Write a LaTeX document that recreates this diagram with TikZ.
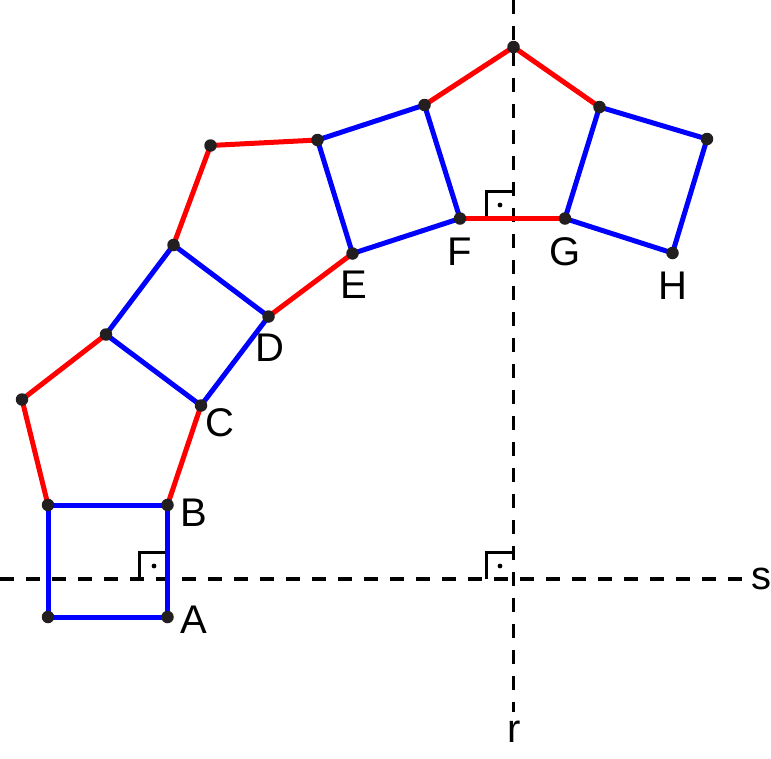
\documentclass[tikz,border=0pt]{standalone}
\usepackage{fontspec}
\setmainfont{Liberation Sans}
\definecolor{dotc}{RGB}{35,31,32}
\definecolor{myred}{RGB}{255,0,0}
\definecolor{myblue}{RGB}{0,0,255}
\begin{document}
\begin{tikzpicture}[x=1pt,y=-1pt,
  redline/.style={myred,line width=5pt},
  blueline/.style={myblue,line width=5pt},
  axisline/.style={black,line width=3.2pt,dash pattern=on 14pt off 12pt},
  rightmark/.style={black,line width=3pt},
  pt/.style={circle,fill=dotc,inner sep=0pt,minimum size=12.5pt},
  lbl/.style={font=\fontsize{40}{48}\selectfont,inner sep=0pt}]
\useasboundingbox (0,0) rectangle (771,758);
% axes
\coordinate (s0) at (0,579);
\coordinate (s1) at (745,579);
\coordinate (r0) at (513.5,0);
\coordinate (r1) at (513.5,712);
\draw[axisline] (s0) -- (s1);
\draw[axisline] (r0) -- (r1);
% right angle marks
\draw[rightmark] (139.5,579) -- (139.5,552) -- (167.5,552);
\fill (154,566) circle (2.4pt);
\draw[rightmark] (486,579) -- (486,552) -- (513.5,552);
\fill (500,566) circle (2.4pt);
\draw[rightmark] (486,219) -- (486,191) -- (513.5,191);
\fill (500,205) circle (2.4pt);
% points
\coordinate (A) at (167.5,617);
\coordinate (B) at (167.5,505);
\coordinate (P1) at (48,505);
\coordinate (P2) at (48,617);
\coordinate (Q1) at (22,399.5);
\coordinate (Q2) at (106,334.5);
\coordinate (C) at (201,405.5);
\coordinate (R1) at (173.5,245);
\coordinate (D) at (268.5,316.5);
\coordinate (S1) at (210.5,145.5);
\coordinate (S2) at (317.5,140);
\coordinate (E) at (352.5,253.5);
\coordinate (T) at (424.5,105);
\coordinate (F) at (460,218.5);
\coordinate (Top) at (513.5,47);
\coordinate (U) at (599.5,107);
\coordinate (G) at (565,218.5);
\coordinate (V) at (707,139);
\coordinate (H) at (672.5,253);
% red edges
\draw[redline] (P1) -- (Q1) -- (Q2);
\draw[redline] (B) -- (C);
\draw[redline] (R1) -- (S1) -- (S2);
\draw[redline] (D) -- (E);
\draw[redline] (T) -- (Top) -- (U);
\draw[redline] (F) -- (G);
% blue squares
\draw[blueline,line join=round] (A) -- (B) -- (P1) -- (P2) -- cycle;
\draw[blueline,line join=round] (C) -- (D) -- (R1) -- (Q2) -- cycle;
\draw[blueline,line join=round] (E) -- (F) -- (T) -- (S2) -- cycle;
\draw[blueline,line join=round] (G) -- (H) -- (V) -- (U) -- cycle;
% dots
\foreach \p in {A,B,P1,P2,Q1,Q2,C,R1,D,S1,S2,E,T,F,Top,U,G,V,H}
  \node[pt] (d\p) at (\p) {};
% labels
\node[lbl] (lA) at (193.5,620) {A};
\node[lbl] (lB) at (193.5,512.5) {B};
\node[lbl] (lC) at (220,423) {C};
\node[lbl] (lD) at (269.5,348) {D};
\node[lbl] (lE) at (353.5,285) {E};
\node[lbl] (lF) at (460,252) {F};
\node[lbl] (lG) at (565,252) {G};
\node[lbl] (lH) at (672.5,286) {H};
\node[lbl] (ls) at (761,579) {s};
\node[lbl] (lr) at (514.5,731.5) {r};
\end{tikzpicture}
\end{document}
